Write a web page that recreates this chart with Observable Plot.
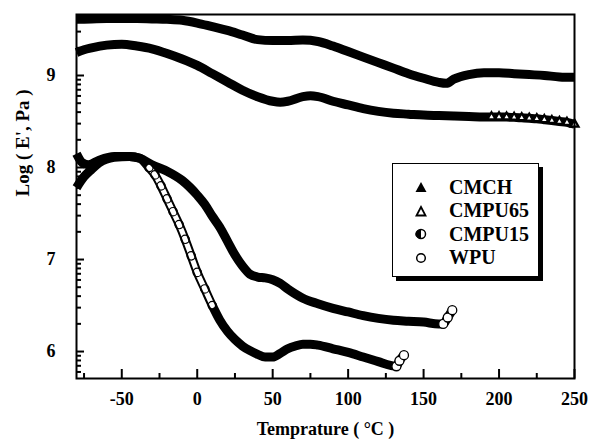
<!DOCTYPE html>
<html><head><meta charset="utf-8">
<script src="https://cdn.jsdelivr.net/npm/d3@7"></script>
<script src="https://cdn.jsdelivr.net/npm/@observablehq/plot@0.6"></script>
<style>
body{margin:0;background:#fff;}
#wrap{position:relative;width:589px;height:446px;}
#legend{position:absolute;left:392px;top:163px;width:147px;height:114px;border:1.5px solid #000;box-shadow:4px 4px 0 #000;background:#fff;font-family:"Liberation Serif";font-weight:bold;font-size:20px;box-sizing:border-box;}
.row{position:absolute;left:22px;height:22px;display:flex;align-items:center;}
.row svg{margin-right:22px;}
</style></head><body><div id="wrap"><div id="legend"></div></div>
<script>
const seriesNames = ["CMCH", "CMPU65", "CMPU15", "WPU"];

const cmchT = [-80,-70,-60,-50,-40,-30,-20,-10,0,10,20,30,40,50,60,70,80,90,100,110,120,130,140,150,160,165,170,180,190,200,210,220,230,240,250];
const cmchV = [9.61,9.615,9.62,9.62,9.62,9.615,9.61,9.60,9.57,9.53,9.49,9.44,9.39,9.38,9.38,9.385,9.37,9.32,9.26,9.20,9.14,9.08,9.02,8.97,8.925,8.915,8.96,9.01,9.03,9.03,9.02,9.01,9.0,8.985,8.98];

const cmpu65T = [-80,-75,-70,-60,-50,-40,-30,-20,-10,0,10,20,30,40,50,55,60,70,75,80,90,100,110,120,130,140,150,160,170,180,190,195,200,205,210,215,220,225,230,235,240,245,250];
const cmpu65V = [9.25,9.28,9.30,9.33,9.34,9.32,9.29,9.24,9.18,9.11,9.02,8.93,8.84,8.77,8.72,8.71,8.72,8.77,8.78,8.77,8.72,8.68,8.64,8.61,8.59,8.58,8.57,8.565,8.56,8.555,8.55,8.55,8.55,8.548,8.545,8.54,8.535,8.53,8.52,8.51,8.50,8.49,8.47];

const cmpu15T = [-80,-76,-72,-65,-55,-45,-38,-30,-20,-10,0,5,10,15,20,25,30,35,40,45,50,55,60,70,80,90,100,110,120,130,140,150,160,163,166,169];
const cmpu15V = [8.15,8.05,8.03,8.08,8.12,8.12,8.10,8.03,7.96,7.86,7.70,7.60,7.47,7.35,7.20,7.05,6.93,6.84,6.81,6.80,6.78,6.74,6.68,6.58,6.52,6.47,6.43,6.39,6.36,6.34,6.33,6.32,6.30,6.30,6.37,6.45];

const wpuT = [-80,-75,-70,-65,-55,-45,-38,-32,-28,-24,-20,-16,-12,-8,-4,0,5,10,15,20,25,30,35,40,45,50,55,60,65,70,75,80,90,100,110,120,128,132,134,137];
const wpuV = [7.78,7.90,7.98,8.05,8.11,8.12,8.10,8.00,7.92,7.80,7.66,7.52,7.38,7.22,7.04,6.86,6.68,6.50,6.34,6.22,6.13,6.06,6.01,5.97,5.94,5.94,5.98,6.03,6.06,6.08,6.08,6.07,6.03,5.99,5.94,5.89,5.85,5.84,5.90,5.96];

const xMajor = [-50, 0, 50, 100, 150, 200, 250];
const xMinor = [-75, -25, 25, 75, 125, 175, 225];
const yMajor = [6, 7, 8, 9];
const yMinor = [5, 6, 7, 8, 9].flatMap(d => [2,3,4,5,6,7,8,9].map(k => d + Math.log10(k))).filter(v => v > 5.71 && v < 9.66);
const xTitle = "Temprature ( \u00B0C )";
const yTitle = "Log ( E', Pa )";

const toRows = (name, T, V) => T.map((t, i) => ({name, t, v: V[i]}));
const cmch = toRows("CMCH", cmchT, cmchV);
const cmpu65 = toRows("CMPU65", cmpu65T, cmpu65V);
const cmpu15 = toRows("CMPU15", cmpu15T, cmpu15V);
const wpu = toRows("WPU", wpuT, wpuV);
const all = [...cmch, ...cmpu65, ...cmpu15, ...wpu];

const wpuSteep = wpu.filter(d => d.t >= -36 && d.t <= 14);
const wpuEnd = wpu.filter(d => d.t >= 132);
const cmpu15End = cmpu15.filter(d => d.t >= 163);
const cmpu65End = cmpu65.filter(d => d.t >= 195);

const W = 589, H = 446, mL = 76, mR = 15, mT = 14, mB = 68;
const xDom = [-80, 250], yDom = [5.707, 9.663];
const pw = W - mL - mR, ph = H - mT - mB;
// inward tick lengths, converted from pixels to data units
const xu = px => px * (xDom[1] - xDom[0]) / pw;
const yu = px => px * (yDom[1] - yDom[0]) / ph;

const yTickRows = [
  ...yMinor.map(v => ({v, a: xDom[0], b: xDom[0] + xu(4.5)})),
  ...yMajor.map(v => ({v, a: xDom[0], b: xDom[0] + xu(7.5)}))
];
const xTickRows = [
  ...xMinor.map(t => ({t, a: yDom[0], b: yDom[0] + yu(5.5)})),
  ...xMajor.map(t => ({t, a: yDom[0], b: yDom[0] + yu(9.5)}))
];

const font = "Liberation Serif";
const chart = Plot.plot({
  width: W, height: H,
  marginLeft: mL, marginRight: mR, marginTop: mT, marginBottom: mB,
  style: {fontFamily: font, fontWeight: "bold", fontSize: "18px", color: "#000", background: "#fff"},
  x: {domain: xDom},
  y: {domain: yDom},
  marks: [
    Plot.link(yTickRows, {x1: "a", x2: "b", y1: "v", y2: "v", stroke: "#000", strokeWidth: 2}),
    Plot.link(xTickRows, {x1: "t", x2: "t", y1: "a", y2: "b", stroke: "#000", strokeWidth: 2}),
    Plot.line(all, {x: "t", y: "v", z: "name", stroke: "#000", strokeWidth: 9, curve: "monotone-x", strokeLinecap: "butt"}),
    Plot.line(wpuSteep, {x: "t", y: "v", stroke: "#fff", strokeWidth: 5, curve: "monotone-x"}),
    Plot.dot(wpuSteep, {x: "t", y: "v", r: 4.2, stroke: "#000", strokeWidth: 1.2, fill: "none"}),
    Plot.dot(wpuEnd, {x: "t", y: "v", r: 4.5, stroke: "#000", strokeWidth: 1.3, fill: "#fff"}),
    Plot.dot(cmpu15End, {x: "t", y: "v", r: 4.5, stroke: "#000", strokeWidth: 1.3, fill: "#fff"}),
    Plot.dot(cmpu65End, {x: "t", y: "v", r: 3, symbol: "triangle", stroke: "#000", strokeWidth: 2.2, fill: "#fff"}),
    Plot.axisY(yMajor, {anchor: "left", tickSize: 0, tickPadding: 21, fontSize: 18, tickFormat: d => String(d), label: null}),
    Plot.axisX(xMajor, {anchor: "bottom", tickSize: 0, tickPadding: 14, fontSize: 18, tickFormat: d => String(d), label: null}),
    Plot.text([yTitle], {frameAnchor: "left", dx: -54, rotate: -90, fontSize: 19, fill: "#000"}),
    Plot.text([xTitle], {frameAnchor: "bottom", dy: 56, fontSize: 18, fill: "#000"}),
    Plot.frame({stroke: "#000", strokeWidth: 2})
  ]
});
document.getElementById("wrap").prepend(chart);

const sym = {
  CMCH: '<polygon points="6,1 11.5,11 0.5,11" fill="#000"/>',
  CMPU65: '<polygon points="6,2 10.5,10.5 1.5,10.5" fill="#fff" stroke="#000" stroke-width="1.8"/>',
  CMPU15: '<circle cx="6" cy="6" r="4.5" fill="#fff" stroke="#000" stroke-width="1.5"/><path d="M6,1.5 A4.5,4.5 0 0 0 6,10.5 Z" fill="#000"/><path d="M6,1.5 A4.5,4.5 0 0 0 4.5,10.3 A6,4.5 0 0 1 6,1.5Z" fill="#000"/>',
  WPU: '<circle cx="6" cy="6" r="4.3" fill="#fff" stroke="#000" stroke-width="1.5"/>'
};
const leg = document.getElementById("legend");
seriesNames.forEach((n, i) => {
  const row = document.createElement("div");
  row.className = "row";
  row.style.top = (12 + i * 23.5) + "px";
  row.innerHTML = `<svg width="12" height="12" viewBox="0 0 12 12">${sym[n]}</svg><span>${n}</span>`;
  leg.appendChild(row);
});
</script></body></html>
